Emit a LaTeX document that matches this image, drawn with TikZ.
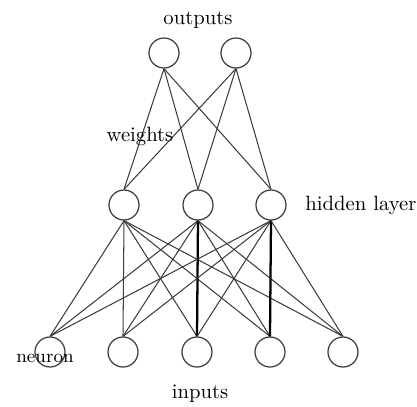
\documentclass[tikz,border=0pt]{standalone}
\usepackage{xcolor}
\definecolor{nngray}{RGB}{60,60,60}
\usepackage{tikz}
\usetikzlibrary{positioning}
\tikzset{
  unit/.style={draw=nngray,circle,minimum size=0.51cm,inner sep=0pt,line width=0.6pt},
  lbl/.style={font=\normalsize,text=black,inner sep=1pt},
  wire/.style={draw=nngray,line width=0.5pt},
  strong/.style={draw=black,line width=1.1pt},
}

\begin{document}
\begin{tikzpicture}[x=0.017cm,y=-0.017cm]
\useasboundingbox (0,0) rectangle (417,406);

% output layer
\node[unit] (o1) at (164,53) {};
\node[unit] (o2) at (236,53) {};
\node[lbl] (outlbl) at (198,20) {outputs};

% hidden layer
\node[unit] (h1) at (124,205) {};
\node[unit] (h2) at (198,205) {};
\node[unit] (h3) at (271,205) {};
\node[lbl,anchor=west] (hidlbl) at (303,205) {hidden layer};

% input layer
\node[unit] (i1) at (50,352) {};
\node[unit] (i2) at (123,352) {};
\node[unit] (i3) at (197,352) {};
\node[unit] (i4) at (270,352) {};
\node[unit] (i5) at (343,352) {};
\node[lbl,font=\small] (neulbl) at (45,358) {neuron};
\node[lbl] (inlbl) at (200,394) {inputs};

% weights: outputs to hidden
\draw[wire] (o1.south) -- (h1.north);
\draw[wire] (o1.south) -- (h2.north);
\draw[wire] (o1.south) -- (h3.north);
\draw[wire] (o2.south) -- (h1.north);
\draw[wire] (o2.south) -- (h2.north);
\draw[wire] (o2.south) -- (h3.north);
\node[lbl] (wlbl) at (140,136) {weights};

% weights: hidden to inputs
\draw[wire] (h1.south) -- (i1.north);
\draw[wire] (h1.south) -- (i2.north);
\draw[wire] (h1.south) -- (i3.north);
\draw[wire] (h1.south) -- (i4.north);
\draw[wire] (h1.south) -- (i5.north);
\draw[wire] (h2.south) -- (i1.north);
\draw[wire] (h2.south) -- (i2.north);
\draw[strong] (h2.south) -- (i3.north);
\draw[wire] (h2.south) -- (i4.north);
\draw[wire] (h2.south) -- (i5.north);
\draw[wire] (h3.south) -- (i1.north);
\draw[wire] (h3.south) -- (i2.north);
\draw[wire] (h3.south) -- (i3.north);
\draw[strong] (h3.south) -- (i4.north);
\draw[wire] (h3.south) -- (i5.north);
\end{tikzpicture}
\end{document}
